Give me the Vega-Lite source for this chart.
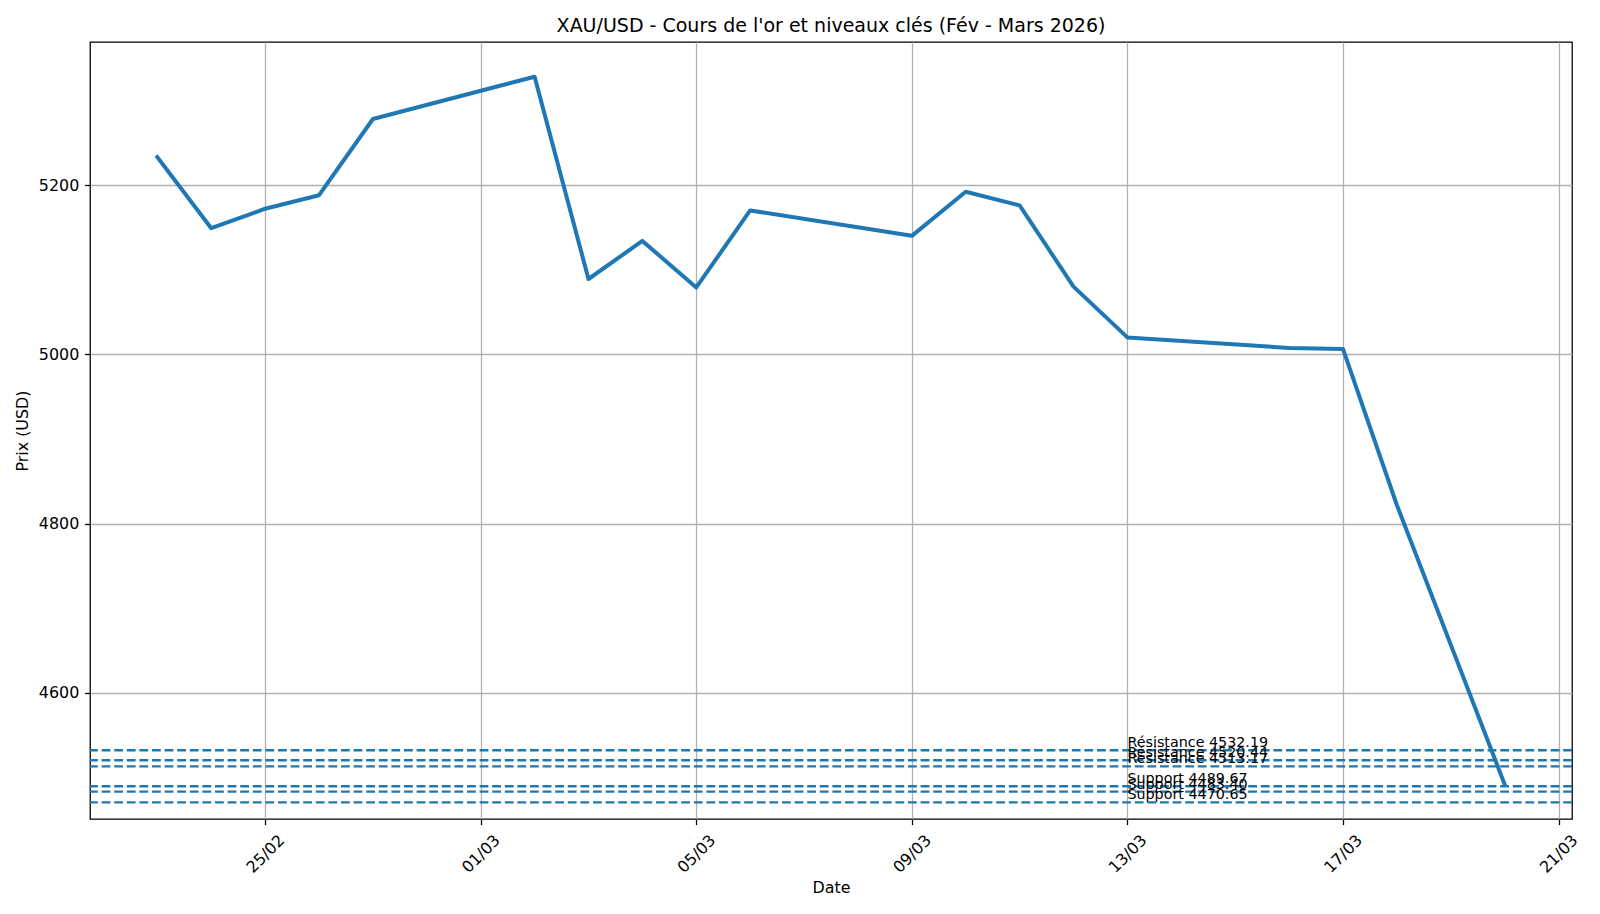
{
  "$schema": "https://vega.github.io/schema/vega-lite/v6.json",
  "width": 1482,
  "height": 777,
  "autosize": "none",
  "padding": {"left": 90, "top": 42, "right": 28, "bottom": 95},
  "background": "white",
  "config": {
    "font": "DejaVu Sans",
    "view": {"stroke": "black", "strokeWidth": 1.27},
    "axis": {
      "domain": false,
      "grid": true,
      "gridColor": "#b0b0b0",
      "gridWidth": 1.27,
      "gridOpacity": 1,
      "tickColor": "black",
      "tickSize": 5.6,
      "tickWidth": 1.27,
      "labelFont": "DejaVu Sans",
      "labelFontSize": 15.9,
      "labelColor": "black",
      "titleFont": "DejaVu Sans",
      "titleFontSize": 15.9,
      "titleFontWeight": "normal",
      "titleColor": "black"
    }
  },
  "title": {
    "text": "XAU/USD - Cours de l'or et niveaux clés (Fév - Mars 2026)",
    "font": "DejaVu Sans",
    "fontSize": 19,
    "fontWeight": "normal",
    "color": "black",
    "anchor": "middle",
    "offset": 6
  },
  "layer": [
    {
      "data": {
        "values": [
          {"date": "2026-02-23", "prix": 5233},
          {"date": "2026-02-24", "prix": 5149},
          {"date": "2026-02-25", "prix": 5172},
          {"date": "2026-02-26", "prix": 5188},
          {"date": "2026-02-27", "prix": 5278},
          {"date": "2026-03-02", "prix": 5328},
          {"date": "2026-03-03", "prix": 5089},
          {"date": "2026-03-04", "prix": 5134},
          {"date": "2026-03-05", "prix": 5079},
          {"date": "2026-03-06", "prix": 5170},
          {"date": "2026-03-09", "prix": 5140},
          {"date": "2026-03-10", "prix": 5192},
          {"date": "2026-03-11", "prix": 5176},
          {"date": "2026-03-12", "prix": 5080},
          {"date": "2026-03-13", "prix": 5020},
          {"date": "2026-03-16", "prix": 5007.5},
          {"date": "2026-03-17", "prix": 5006.4},
          {"date": "2026-03-18", "prix": 4822},
          {"date": "2026-03-20", "prix": 4492}
        ]
      },
      "mark": {"type": "line", "color": "#1f77b4", "strokeWidth": 4, "strokeJoin": "round", "strokeCap": "square"},
      "encoding": {
        "x": {
          "field": "date",
          "type": "temporal",
          "title": "Date",
          "scale": {
            "type": "utc",
            "domain": [
              {"year": 2026, "month": 2, "date": 21, "hours": 18, "utc": true},
              {"year": 2026, "month": 3, "date": 21, "hours": 6, "utc": true}
            ]
          },
          "axis": {
            "values": [
              {"year": 2026, "month": 2, "date": 25, "utc": true},
              {"year": 2026, "month": 3, "date": 1, "utc": true},
              {"year": 2026, "month": 3, "date": 5, "utc": true},
              {"year": 2026, "month": 3, "date": 9, "utc": true},
              {"year": 2026, "month": 3, "date": 13, "utc": true},
              {"year": 2026, "month": 3, "date": 17, "utc": true},
              {"year": 2026, "month": 3, "date": 21, "utc": true}
            ],
            "format": "%d/%m",
            "labelAngle": -45,
            "labelAlign": "center",
            "labelBaseline": "middle",
            "labelPadding": 29,
            "labelOverlap": false,
            "titlePadding": 4
          }
        },
        "y": {
          "field": "prix",
          "type": "quantitative",
          "title": "Prix (USD)",
          "scale": {"domain": [4451, 5369], "nice": false, "zero": false},
          "axis": {
            "values": [4600, 4800, 5000, 5200],
            "format": "d",
            "labelPadding": 5.6,
            "titlePadding": 8
          }
        }
      }
    },
    {
      "data": {
        "values": [
          {"niveau": 4532.19, "label": "Résistance 4532.19"},
          {"niveau": 4520.44, "label": "Résistance 4520.44"},
          {"niveau": 4513.17, "label": "Résistance 4513.17"},
          {"niveau": 4489.67, "label": "Support 4489.67"},
          {"niveau": 4483.40, "label": "Support 4483.40"},
          {"niveau": 4470.65, "label": "Support 4470.65"}
        ]
      },
      "layer": [
        {
          "mark": {"type": "rule", "color": "#1f77b4", "strokeWidth": 2.4, "strokeDash": [8.8, 3.8]},
          "encoding": {
            "y": {"field": "niveau", "type": "quantitative"}
          }
        },
        {
          "mark": {"type": "text", "align": "left", "baseline": "bottom", "fontSize": 14.3, "font": "DejaVu Sans", "color": "black"},
          "encoding": {
            "x": {"datum": {"year": 2026, "month": 3, "date": 13, "utc": true}, "type": "temporal"},
            "y": {"field": "niveau", "type": "quantitative"},
            "text": {"field": "label"}
          }
        }
      ]
    }
  ]
}
